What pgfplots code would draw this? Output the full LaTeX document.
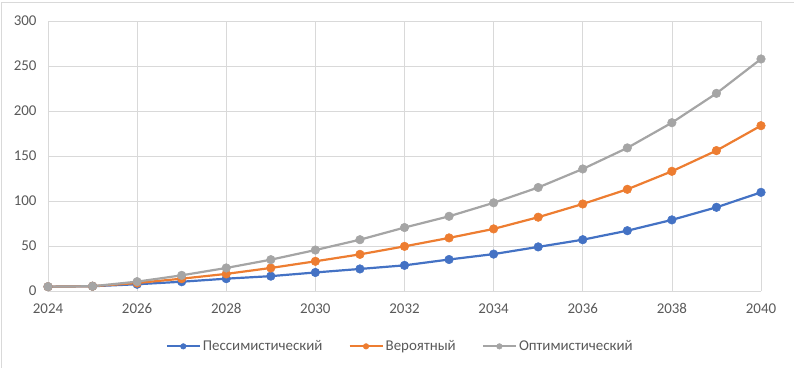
\documentclass[border=0pt]{standalone}
\usepackage{fontspec}
\setmainfont{Carlito}
\usepackage{pgfplots}
\pgfplotsset{compat=1.18}
\definecolor{cblue}{HTML}{4472C4}
\definecolor{corange}{HTML}{ED7D31}
\definecolor{cgray}{HTML}{A5A5A5}
\definecolor{gridc}{HTML}{D9D9D9}
\definecolor{textc}{HTML}{595959}
\begin{document}
\begin{tikzpicture}
\useasboundingbox (0bp,0bp) rectangle (794bp,368bp);
\draw[color=gridc, line width=0.75bp] (1bp,0bp) -- (1bp,366bp) -- (794bp,366bp);
\begin{axis}[
  at={(48bp,77bp)}, anchor=south west,
  scale only axis, width=713bp, height=270bp,
  xmin=2024, xmax=2040, ymin=0, ymax=300,
  xtick={2024,2026,...,2040}, ytick={0,50,...,300},
  grid=major, major grid style={color=gridc, line width=0.75bp},
  axis line style={draw=none},
  major tick length=0pt,
  tick label style={font=\fontsize{15}{17}\selectfont, text=textc},
  /pgf/number format/1000 sep={},
  /pgf/number format/assume math mode=true,
  xticklabel style={yshift=-9bp},
  yticklabel style={xshift=-8bp},
  legend style={at={(0.494,-0.205)}, anchor=center, draw=none, fill=none,
    legend columns=-1, font=\fontsize{15}{17}\selectfont, text=textc,
    /tikz/every even column/.append style={column sep=24bp}},
  legend image code/.code={\draw[mark repeat=2,mark phase=2,mark size=2.8bp] plot coordinates {(0bp,0bp)(16.5bp,0bp)(33bp,0bp)};},
]
\addplot[color=cblue, line width=2.2bp, mark=*, mark size=4.3bp, mark options={fill=cblue, draw=cblue, line width=0.5bp}] coordinates {
(2024,4.8)(2025,5.3)(2026,7.5)(2027,10.3)(2028,13.7)(2029,16.5)(2030,20.6)(2031,24.5)(2032,28.5)(2033,35)(2034,41)(2035,49)(2036,57)(2037,67)(2038,79)(2039,93)(2040,109.6)};
\addlegendentry{Пессимистический}
\addplot[color=corange, line width=2.2bp, mark=*, mark size=4.3bp, mark options={fill=corange, draw=corange, line width=0.5bp}] coordinates {
(2024,4.8)(2025,5.3)(2026,8.9)(2027,13.7)(2028,19)(2029,25.6)(2030,33)(2031,40.7)(2032,49.6)(2033,59)(2034,69)(2035,82)(2036,96.7)(2037,113)(2038,133)(2039,156)(2040,183.7)};
\addlegendentry{Вероятный}
\addplot[color=cgray, line width=2.2bp, mark=*, mark size=4.3bp, mark options={fill=cgray, draw=cgray, line width=0.5bp}] coordinates {
(2024,4.8)(2025,5.3)(2026,10.4)(2027,17.4)(2028,25.6)(2029,34.8)(2030,45.5)(2031,57)(2032,70.5)(2033,83)(2034,98)(2035,115)(2036,135.6)(2037,159)(2038,187)(2039,219.6)(2040,257.8)};
\addlegendentry{Оптимистический}
\end{axis}
\end{tikzpicture}
\end{document}
